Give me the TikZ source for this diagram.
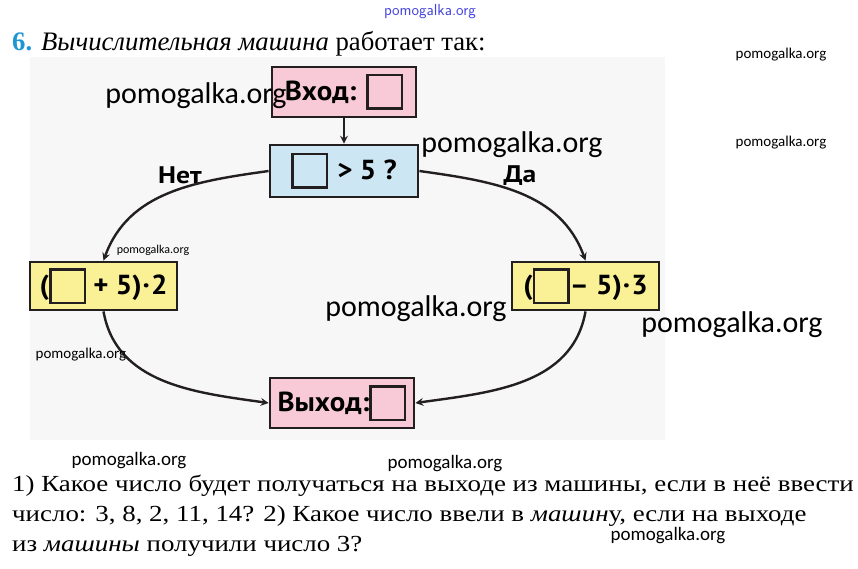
\documentclass[tikz,border=0pt]{standalone}
\usepackage{fontspec}
\setmainfont{Liberation Serif}
\newfontfamily\qfont[FakeStretch=1.17]{Liberation Serif}
\newfontfamily\boxfont[FakeStretch=1.05]{PT Sans}
\newfontfamily\labelfont[FakeStretch=1.15]{PT Sans}
\newfontfamily\wmfont{Carlito}
\definecolor{boxline}{RGB}{35,31,32}
\definecolor{pinkfill}{RGB}{248,202,216}
\definecolor{bluefill}{RGB}{204,230,243}
\definecolor{yelfill}{RGB}{250,240,150}
\definecolor{numblue}{RGB}{30,150,210}
\definecolor{wmblue}{RGB}{70,70,220}
\definecolor{backgrey}{RGB}{247,247,247}
\newcommand{\slot}[1]{\raisebox{-7pt}{\setlength{\fboxsep}{0pt}\setlength{\fboxrule}{2.5pt}\fcolorbox{boxline}{#1}{\rule{0pt}{31pt}\hspace{32pt}}}}

\begin{document}
\begin{tikzpicture}[x=1pt,y=-1pt]

%
% Styles
%
\tikzstyle{block}  = [draw=boxline,line width=2.8pt,inner sep=0pt,
                      font=\boxfont\bfseries\fontsize{27.5}{27.5}\selectfont]
\tikzstyle{iobox}  = [block,fill=pinkfill,minimum width=144pt,minimum height=50pt]
\tikzstyle{askbox} = [block,fill=bluefill,minimum width=148pt,minimum height=52pt]
\tikzstyle{calc}   = [block,fill=yelfill,minimum width=147pt,minimum height=48pt]
\tikzstyle{edge}   = [->,>=stealth,line width=2.4pt,draw=boxline]
\tikzstyle{answer} = [font=\labelfont\bfseries\fontsize{24}{24}\selectfont]
\tikzstyle{line}   = [anchor=base west,inner sep=0pt,font=\qfont\fontsize{23}{23}\selectfont]
\tikzstyle{wm}     = [inner sep=0pt,font=\wmfont]

\useasboundingbox (0,0) rectangle (858,569);
\fill[backgrey] (30,57) rectangle (665,440);

\node[line,font=\fontsize{26.7}{26.7}\selectfont] (title) at (12,51)
  {\textcolor{numblue}{\textbf{6.}} \textit{Вычислительная машина} работает так:};

\node[iobox]  (vhod)  at (344,92)  {Вход: \slot{pinkfill}};
\node[askbox] (cond)  at (344,171) {\slot{bluefill}\hspace{9pt}> 5 ?};
\node[calc]   (plus)  at (103.5,286) {(\slot{yelfill} + 5)\kern1pt·\kern1pt2};
\node[calc]   (minus) at (585.5,286) {(\slot{yelfill}– 5)\kern1pt·\kern1pt3};
\node[iobox]  (vyhod) at (342,403) {Выход:\slot{pinkfill}};

\node[answer] (net) at (180,175) {Нет};
\node[answer] (da)  at (520,176) {Да};

\draw[edge] (vhod) -- (cond);
\draw[edge] (cond.west) to [out=188,in=70] (plus.north);
\draw[edge] (cond.east) to [out=-8,in=110] (minus.north);
\draw[edge] (plus.south) to [out=-80,in=172] (vyhod.west);
\draw[edge] (minus.south) to [out=-100,in=8] (vyhod.east);

\node[line] (q1) at (12,491) {1) Какое число будет получаться на выходе из машины, если в неё ввести};
\node[line] (q2) at (12,521) {число: 3, 8, 2, 11, 14? 2) Какое число ввели в \textit{машин}у, если на выходе};
\node[line] (q3) at (12,551) {из \textit{машины} получили число 3?};

% watermarks
\node[wm,font=\fontsize{16}{16}\selectfont\sffamily,text=wmblue] (wm0) at (430,12) {pomogalka.org};
\node[wm,font=\wmfont\fontsize{30}{30}\selectfont] (wm1) at (196,96)  {pomogalka.org};
\node[wm,font=\wmfont\fontsize{30}{30}\selectfont] (wm2) at (512,145) {pomogalka.org};
\node[wm,font=\wmfont\fontsize{30}{30}\selectfont] (wm3) at (416,309) {pomogalka.org};
\node[wm,font=\wmfont\fontsize{30}{30}\selectfont] (wm4) at (732,325) {pomogalka.org};
\node[wm,font=\wmfont\fontsize{15}{15}\selectfont] (wm5) at (781,55)  {pomogalka.org};
\node[wm,font=\wmfont\fontsize{15}{15}\selectfont] (wm6) at (781,143) {pomogalka.org};
\node[wm,font=\wmfont\fontsize{12}{12}\selectfont] (wm7) at (153,250) {pomogalka.org};
\node[wm,font=\wmfont\fontsize{15}{15}\selectfont] (wm8) at (81,355)  {pomogalka.org};
\node[wm,font=\wmfont\fontsize{19}{19}\selectfont] (wm9) at (129,461) {pomogalka.org};
\node[wm,font=\wmfont\fontsize{19}{19}\selectfont] (wm10) at (445,464) {pomogalka.org};
\node[wm,font=\wmfont\fontsize{19}{19}\selectfont] (wm11) at (668,536) {pomogalka.org};

\end{tikzpicture}
\end{document}
